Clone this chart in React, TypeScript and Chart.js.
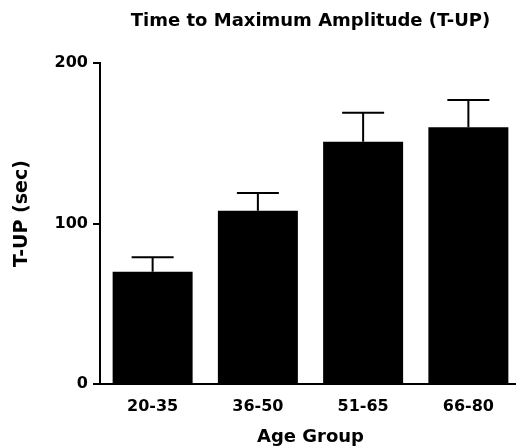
import React, { useEffect, useRef } from "react";
import { Chart, registerables } from "chart.js";

Chart.register(...registerables);

const categories = ["20-35", "36-50", "51-65", "66-80"];
const means = [70, 108, 151, 160];
const sems = [9, 11, 18, 17];
const yTicks = [0, 100, 200];

const FONT = "'DejaVu Sans', 'Liberation Sans', Arial, sans-serif";

const errorBarPlugin = {
  id: "errorBars",
  afterDatasetsDraw(chart: any) {
    const { ctx } = chart;
    const meta = chart.getDatasetMeta(0);
    const yScale = chart.scales.y;
    ctx.save();
    ctx.strokeStyle = "#000";
    ctx.lineWidth = 2;
    meta.data.forEach((bar: any, i: number) => {
      const x = bar.x;
      const yTop = yScale.getPixelForValue(means[i] + sems[i]);
      const yBar = yScale.getPixelForValue(means[i]);
      ctx.beginPath();
      ctx.moveTo(x, yBar);
      ctx.lineTo(x, yTop);
      ctx.moveTo(x - 21, yTop);
      ctx.lineTo(x + 21, yTop);
      ctx.stroke();
    });
    ctx.restore();
  },
};

export default function App() {
  const ref = useRef<HTMLCanvasElement | null>(null);
  useEffect(() => {
    document.body.style.margin = "0";
    if (!ref.current) return;
    const chart = new Chart(ref.current, {
      type: "bar",
      data: {
        labels: categories,
        datasets: [
          {
            data: means,
            backgroundColor: "#000",
            borderWidth: 0,
            barPercentage: 0.76,
            categoryPercentage: 1,
          },
        ],
      },
      options: {
        responsive: false,
        animation: false,
        layout: { padding: { left: 0, right: 0, top: 0, bottom: 0 } },
        plugins: {
          legend: { display: false },
          tooltip: { enabled: false },
          title: {
            display: true,
            fullSize: false,
            text: "Time to Maximum Amplitude (T-UP)",
            color: "#000",
            font: { family: FONT, size: 18, weight: "bold" },
            padding: { top: 11, bottom: 30.4 },
          },
        },
        scales: {
          x: {
            afterFit: (s: any) => {
              s.height = 62;
            },
            grid: { display: false },
            border: { display: true, color: "#000", width: 2 },
            ticks: {
              color: "#000",
              font: { family: FONT, size: 16, weight: "bold" },
              padding: 5.5,
            },
            title: {
              display: true,
              text: "Age Group",
              color: "#000",
              font: { family: FONT, size: 18, weight: "bold" },
              padding: { top: 0, bottom: -2 },
            },
          },
          y: {
            min: 0,
            max: 200,
            afterFit: (s: any) => {
              s.width = 100;
            },
            afterBuildTicks: (s: any) => {
              s.ticks = yTicks.map((v) => ({ value: v }));
            },
            grid: {
              drawOnChartArea: false,
              drawTicks: true,
              tickLength: 7,
              color: "#000",
              lineWidth: 2,
            },
            border: { display: true, color: "#000", width: 2 },
            ticks: {
              color: "#000",
              font: { family: FONT, size: 16, weight: "bold" },
              padding: 5,
            },
            title: {
              display: true,
              text: "   T-UP (sec)",
              color: "#000",
              font: { family: FONT, size: 19, weight: "bold" },
              padding: { top: 11, bottom: 0 },
            },
          },
        },
      },
      plugins: [errorBarPlugin],
    });
    return () => chart.destroy();
  }, []);
  return (
    <div
      style={{
        position: "fixed",
        left: 0,
        top: 0,
        width: 516,
        height: 446,
        overflow: "hidden",
        background: "#fff",
      }}
    >
      <canvas ref={ref} width={521} height={446} style={{ display: "block" }} />
    </div>
  );
}
